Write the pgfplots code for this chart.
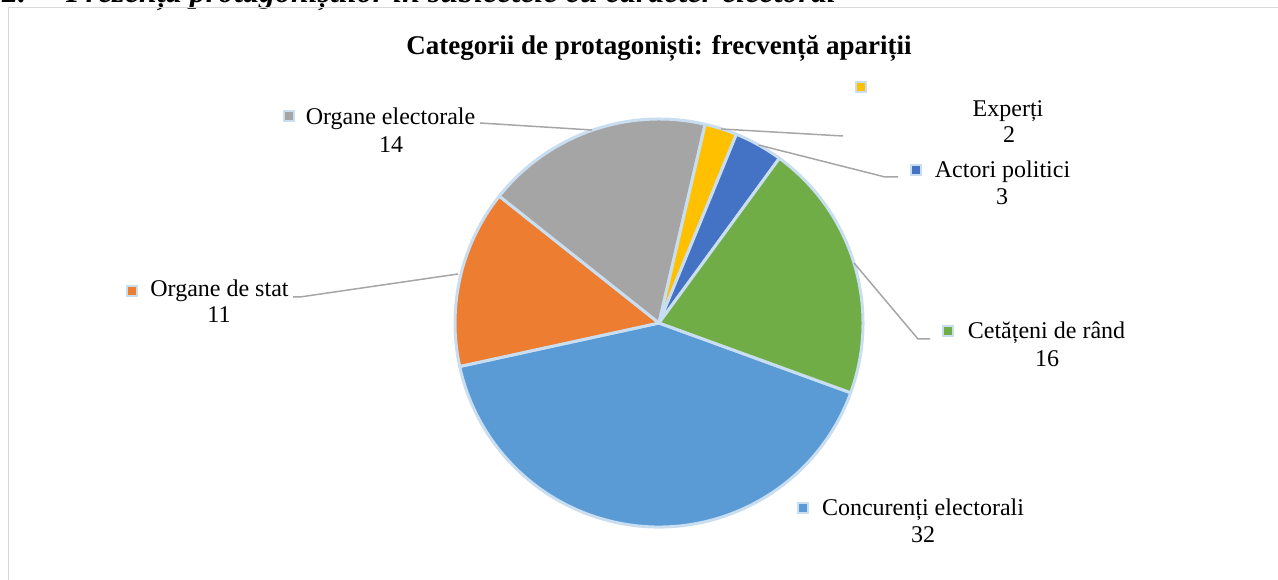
\documentclass[border=0pt]{standalone}
\usepackage{pgfplots}
\pgfplotsset{compat=1.18}
\usepackage{pgfplotstable}
\usepackage{fontspec}
\setmainfont{Liberation Serif}

\definecolor{cA}{HTML}{5B9BD5}
\definecolor{cB}{HTML}{ED7D31}
\definecolor{cC}{HTML}{A5A5A5}
\definecolor{cD}{HTML}{FFC000}
\definecolor{cE}{HTML}{4472C4}
\definecolor{cF}{HTML}{70AD47}
\definecolor{sep}{HTML}{C9DEF1}
\definecolor{lead}{HTML}{A6A6A6}
\definecolor{frame}{HTML}{D9D9D9}

% data (Excel series order)
\pgfplotstableread[col sep=comma]{
name,value
Concurenți electorali,32
Organe de stat,11
Organe electorale,14
Experți,2
Actori politici,3
Cetățeni de rând,16
}\piedata

\pgfplotstablegetelem{0}{value}\of\piedata\edef\vA{\pgfplotsretval}
\pgfplotstablegetelem{1}{value}\of\piedata\edef\vB{\pgfplotsretval}
\pgfplotstablegetelem{2}{value}\of\piedata\edef\vC{\pgfplotsretval}
\pgfplotstablegetelem{3}{value}\of\piedata\edef\vD{\pgfplotsretval}
\pgfplotstablegetelem{4}{value}\of\piedata\edef\vE{\pgfplotsretval}
\pgfplotstablegetelem{5}{value}\of\piedata\edef\vF{\pgfplotsretval}
\pgfmathsetmacro\tot{\vA+\vB+\vC+\vD+\vE+\vF}
% first slice starts 110 deg clockwise from 12 o'clock
\pgfmathsetmacro\aA{90-110}
\pgfmathsetmacro\aB{\aA-360*\vA/\tot}
\pgfmathsetmacro\aC{\aB-360*\vB/\tot}
\pgfmathsetmacro\aD{\aC-360*\vC/\tot}
\pgfmathsetmacro\aE{\aD-360*\vD/\tot}
\pgfmathsetmacro\aF{\aE-360*\vE/\tot}
\pgfmathsetmacro\aG{\aF-360*\vF/\tot}

\newcommand\lbl{\fontsize{24bp}{28bp}\selectfont}

\begin{document}
\begin{tikzpicture}[x=1bp,y=1bp]
\useasboundingbox (0,0) rectangle (1278,580);
\clip (0,0) rectangle (1278,580);
% heading (cut off at top)
\node[anchor=base west,inner sep=0,font=\fontsize{32bp}{36bp}\selectfont\bfseries\itshape] at (2,577) {2.};
\node[anchor=base west,inner sep=0,font=\fontsize{32bp}{36bp}\selectfont\bfseries\itshape] at (66,577) {Prezența protagoniștilor în subiectele cu caracter electoral};
% chart frame
\draw[frame,line width=1.5bp] (8.5,-5) -- (8.5,572.5) -- (1290,572.5);
\begin{axis}[x=1bp,y=1bp,xmin=0,xmax=1278,ymin=0,ymax=580,
  hide axis,clip=false,at={(0,0)},anchor=south west]
% slices
\filldraw[fill=cA,draw=sep,line width=3bp,line join=round] (659,257) -- ++(\aA:204bp) arc[start angle=\aA,end angle=\aB,radius=204bp] -- cycle;
\filldraw[fill=cB,draw=sep,line width=3bp,line join=round] (659,257) -- ++(\aB:204bp) arc[start angle=\aB,end angle=\aC,radius=204bp] -- cycle;
\filldraw[fill=cC,draw=sep,line width=3bp,line join=round] (659,257) -- ++(\aC:204bp) arc[start angle=\aC,end angle=\aD,radius=204bp] -- cycle;
\filldraw[fill=cD,draw=sep,line width=3bp,line join=round] (659,257) -- ++(\aD:204bp) arc[start angle=\aD,end angle=\aE,radius=204bp] -- cycle;
\filldraw[fill=cE,draw=sep,line width=3bp,line join=round] (659,257) -- ++(\aE:204bp) arc[start angle=\aE,end angle=\aF,radius=204bp] -- cycle;
\filldraw[fill=cF,draw=sep,line width=3bp,line join=round] (659,257) -- ++(\aF:204bp) arc[start angle=\aF,end angle=\aG,radius=204bp] -- cycle;
% leader lines
\draw[lead,line width=1.5bp] (480,457) -- (592,450);
\draw[lead,line width=1.5bp] (721,451) -- (843,444);
\draw[lead,line width=1.5bp] (758.5,435) -- (885,403) -- (898,403);
\draw[lead,line width=1.5bp] (854,317) -- (918,241) -- (930,241);
\draw[lead,line width=1.5bp] (293,283) -- (300,283) -- (458,306);
% legend-key markers
\filldraw[fill=cC,draw=sep,line width=2bp] (284,459) rectangle (294,469);
\filldraw[fill=cD,draw=sep,line width=2bp] (856,488) rectangle (866,498);
\filldraw[fill=cE,draw=sep,line width=2bp] (911,405) rectangle (921,415);
\filldraw[fill=cF,draw=sep,line width=2bp] (943,244) rectangle (953,254);
\filldraw[fill=cB,draw=sep,line width=2bp] (127,284) rectangle (137,294);
\filldraw[fill=cA,draw=sep,line width=2bp] (798,67) rectangle (808,77);
% data labels
\node[anchor=base,inner sep=0,font=\lbl] at (390.5,455) {Organe electorale};
\node[anchor=base,inner sep=0,font=\lbl] at (391,427) {14};
\node[anchor=base,inner sep=0,font=\lbl] at (1008,463) {Experți};
\node[anchor=base,inner sep=0,font=\lbl] at (1009,437) {2};
\node[anchor=base,inner sep=0,font=\lbl] at (1002.5,402) {Actori politici};
\node[anchor=base,inner sep=0,font=\lbl] at (1002,375) {3};
\node[anchor=base,inner sep=0,font=\lbl] at (1046.5,241) {Cetățeni de rând};
\node[anchor=base,inner sep=0,font=\lbl] at (1047,213) {16};
\node[anchor=base,inner sep=0,font=\lbl] at (219.5,283) {Organe de stat};
\node[anchor=base,inner sep=0,font=\lbl] at (219,257) {11};
\node[anchor=base,inner sep=0,font=\lbl] at (923,64) {Concurenți electorali};
\node[anchor=base,inner sep=0,font=\lbl] at (923,37) {32};
% title
\node[anchor=base,inner sep=0,font=\fontsize{27bp}{32bp}\selectfont\bfseries] at (659,525) {Categorii de protagoniști: frecvență apariții};
\end{axis}
\end{tikzpicture}
\end{document}
